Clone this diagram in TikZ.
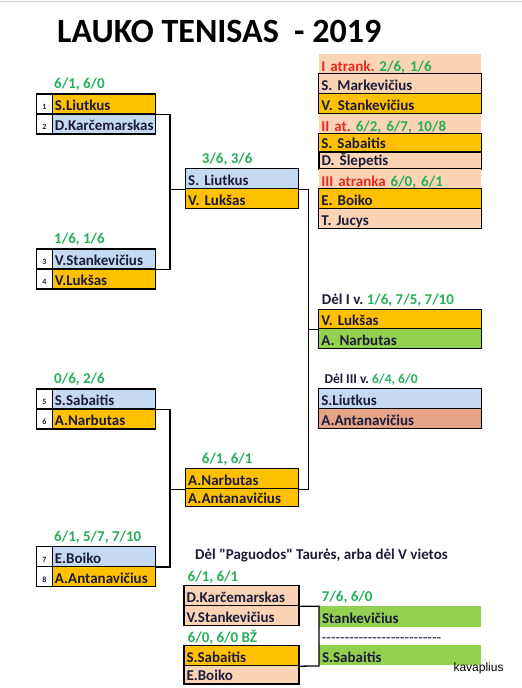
\documentclass[tikz,border=0pt]{standalone}
\usepackage{fontspec}
\newfontfamily\xlfont{Carlito}
\newfontfamily\sigfont{Liberation Sans}
\usetikzlibrary{calc}
\frenchspacing
\definecolor{ink}{HTML}{1C1C3A}
\definecolor{gold}{HTML}{FFC000}
\definecolor{sky}{HTML}{C5D9F1}
\definecolor{peach}{HTML}{FAD4B4}
\definecolor{lime}{HTML}{92D050}
\definecolor{salmon}{HTML}{E6A589}
\definecolor{scoregreen}{HTML}{25B05A}
\definecolor{atred}{HTML}{E62B1E}
\tikzset{
  title/.style={font=\xlfont\bfseries\fontsize{34}{40}\selectfont,text=black,anchor=base west,inner sep=0pt},
  score/.style={font=\xlfont\bfseries\fontsize{15}{17}\selectfont,text=scoregreen,anchor=base west,inner sep=0pt},
  cell/.style={draw=black,line width=0.9pt,anchor=north west,minimum height=20pt,inner xsep=2.6pt,inner ysep=0pt,text height=13.4pt,text depth=0pt,font=\xlfont\bfseries\fontsize{15}{17}\selectfont,text=ink,align=left},
  numcell/.style={cell,line width=1.2pt,minimum width=16pt,inner xsep=0pt,align=center,text height=12pt,font=\xlfont\bfseries\fontsize{8}{9}\selectfont},
  lname/.style={cell,line width=1.2pt,text width=98.1pt},
  mname/.style={cell,line width=1.2pt,text width=107.5pt},
  rname/.style={cell,text width=157.5pt},
  hdr/.style={cell,draw=none,fill=peach,text width=157.5pt,text height=15pt},
  bname/.style={cell,line width=1.2pt,text width=109.8pt},
  gname/.style={cell,draw=none,fill=lime,text width=156.5pt},
  bracket/.style={draw=black,line width=1.3pt}
}

\begin{document}
\begin{tikzpicture}[x=1pt,y=-1pt]
\useasboundingbox (0,0) rectangle (522,688);
\draw[black!18,line width=1pt] (0,1.2) -- (522,1.2);
\node[title] (head) at (57,42.7) {LAUKO TENISAS~ - 2019};
% first round
\foreach \p/\q/\y/\sc/\na/\ca/\nb/\cb in {
1/2/93.3/{6/1, 6/0}/{S.Liutkus}/gold/{D.Karčemarskas}/sky,
3/4/248.3/{1/6, 1/6}/{V.Stankevičius}/sky/{V.Lukšas}/gold,
5/6/388.3/{0/6, 2/6}/{S.Sabaitis}/sky/{A.Narbutas}/gold,
7/8/545.7/{6/1, 5/7, 7/10}/{E.Boiko}/sky/{A.Antanavičius}/gold}
{
\node[score] (sc\p) at (54,\y-4.5) {\sc};
\node[numcell] (n\p) at (35.7,\y) {\p};
\node[lname,fill=\ca] (r\p) at (51.7,\y) {\na};
\node[numcell] (n\q) at (35.7,\y+20) {\q};
\node[lname,fill=\cb] (r\q) at (51.7,\y+20) {\nb};
}
% second round
\node[score] (sc9) at (201.7,163.3) {3/6, 3/6};
\node[mname,fill=sky] (s1a) at (185,168) {S. Liutkus};
\node[mname,fill=gold] (s1b) at (185,188) {V. Lukšas};
\node[score] (sc10) at (201.7,463.5) {6/1, 6/1};
\node[mname,fill=gold] (s2a) at (185,468) {A.Narbutas};
\node[mname,fill=gold,minimum height=18pt,text height=11.4pt] (s2b) at (185,488) {A.Antanavičius};
\draw[bracket] (r1.south east) -| ($(s1a.south west)+(-15,0)$) coordinate (j1) |- (r3.south east) (j1) -- (s1a.south west);
\draw[bracket] (r5.south east) -| ($(s2a.south west)+(-15,0)$) coordinate (j2) |- (r7.south east) (j2) -- (s2a.south west);
% qualifiers
\node[hdr] (h1) at (318.3,53.3) {\textcolor{atred}{I atrank.} \textcolor{scoregreen}{2/6, 1/6}};
\node[rname,fill=peach] (q1) at (318.3,73.3) {S. Markevičius};
\node[rname,fill=gold] (q2) at (318.3,93.3) {V. Stankevičius};
\node[hdr] (h2) at (318.3,113.3) {\textcolor{atred}{II at.} \textcolor{scoregreen}{6/2, 6/7, 10/8}};
\node[rname,fill=gold,minimum height=18pt,text height=11.4pt] (q3) at (318.3,133.3) {S. Sabaitis};
\node[rname,fill=peach,line width=1.3pt,minimum height=17pt,text height=10.4pt] (q4) at (318.3,151.3) {D. Šlepetis};
\node[hdr] (h3) at (318.3,168.3) {\textcolor{atred}{III atranka} \textcolor{scoregreen}{6/0, 6/1}};
\node[rname,fill=gold] (q5) at (318.3,188.3) {E. Boiko};
\node[rname,fill=peach] (q6) at (318.3,208.3) {T. Jucys};
% places
\node[score,text=ink] (sc11) at (321.7,304) {Dėl I v. \textcolor{scoregreen}{1/6, 7/5, 7/10}};
\node[rname,fill=gold,minimum height=19pt,text height=12.4pt] (f1) at (318.3,309.3) {V. Lukšas};
\node[rname,fill=lime] (f2) at (318.3,328.3) {A. Narbutas};
\node[score,text=ink,font=\xlfont\bfseries\fontsize{13.5}{16}\selectfont] (sc12) at (324.3,383.8) {Dėl III v. \textcolor{scoregreen}{6/4, 6/0}};
\node[rname,fill=sky] (t1) at (318.3,388.3) {S.Liutkus};
\node[rname,fill=salmon] (t2) at (318.3,408.3) {A.Antanavičius};
\draw[bracket] (s1a.south east) -| ($(f1.south west)+(-10,0)$) coordinate (j3) |- (s2a.south east) (j3) -- (f1.south west);
% consolation
\node[score,text=ink] (cons) at (195,559.8) {Dėl "Paguodos" Taurės, arba dėl V vietos};
\node[score] (sc13) at (187.5,581.5) {6/1, 6/1};
\node[bname,fill=peach] (c1) at (183.3,585) {D.Karčemarskas};
\node[bname,fill=peach] (c2) at (183.3,605) {V.Stankevičius};
\node[score] (sc14) at (187.5,642.8) {6/0, 6/0 BŽ};
\node[bname,fill=gold] (c3) at (183.3,645) {S.Sabaitis};
\node[bname,fill=peach,minimum height=18.3pt,text height=11.7pt] (c4) at (183.3,665) {E.Boiko};
\node[score] (sc15) at (321.7,601.2) {7/6, 6/0};
\node[gname,minimum height=21pt,text height=14.4pt] (g1) at (319,605.5) {Stankevičius};
\node[score,text=ink,font=\xlfont\fontsize{15}{17}\selectfont] (gap) at (321.7,642.8) {--------------------------};
\node[gname] (g2) at (319,645) {S.Sabaitis};
\draw[bracket] (c1.south east) -| (g2.south west) -- (c3.south east);
\node[anchor=base west,inner sep=0pt,font=\sigfont\fontsize{12}{14}\selectfont] (sig) at (453.3,671) {kavaplius};
\end{tikzpicture}
\end{document}
